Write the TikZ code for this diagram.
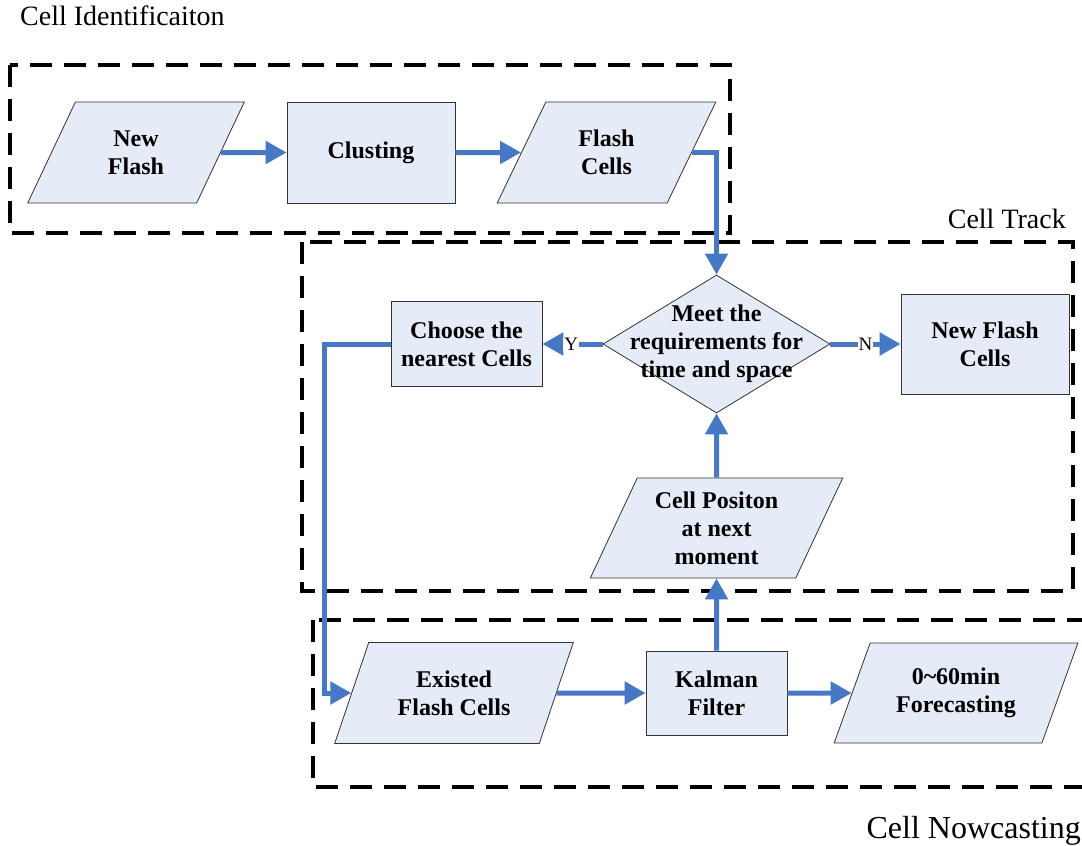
\documentclass[tikz,border=0pt]{standalone}
\usepackage{fontspec}
\setmainfont{Liberation Serif}
\usetikzlibrary{shapes.geometric,arrows.meta}
\definecolor{arr}{RGB}{70,120,198}
\definecolor{boxfill}{RGB}{230,236,247}
\begin{document}
\begin{tikzpicture}[x=1pt,y=-1pt,
  box/.style={draw=black!80, line width=0.8pt, fill=boxfill, font=\fontsize{24}{28}\selectfont\bfseries, align=center, inner sep=0pt},
  rectbox/.style={box, rectangle},
  para/.style={box, trapezium, trapezium left angle=63.4, trapezium right angle=116.6, trapezium stretches=true},
  flow/.style={draw=arr, line width=5pt, -{Triangle[length=21pt,width=22pt]}},
  group/.style={draw=black, line width=3.2pt, dash pattern=on 22pt off 12pt},
  title/.style={font=\fontsize{28}{34}\selectfont, inner sep=0pt},
  yn/.style={font=\fontsize{19}{22}\selectfont, fill=white, inner sep=1pt}
]
\useasboundingbox (0,0) rectangle (1082,846);
\clip (0,0) rectangle (1082,846);

% group frames
\draw[group] (10,65) rectangle (730,233);
\draw[group] (302,242) rectangle (1073,591);
\draw[group] (313,620) rectangle (1095,787);

\node[title, anchor=base west] (t1) at (20,25) {Cell Identificaiton};
\node[title, anchor=base east] (t2) at (1066,228) {Cell Track};
\node[title, anchor=base east, font=\fontsize{32}{36}\selectfont] (t3) at (1081,838) {Cell Nowcasting};

% nodes
\node[para, minimum width=219pt, minimum height=101pt] (nf) at (136,152.5) {New\\Flash};
\node[rectbox, minimum width=168pt, minimum height=101pt] (cl) at (371,152.5) {Clusting};
\node[para, minimum width=219pt, minimum height=101pt] (fc) at (606.5,152.5) {Flash\\Cells};

\node[box, diamond, minimum width=227pt, minimum height=138pt] (dia) at (716.5,344) {};
\node[font=\fontsize{24}{28}\selectfont\bfseries, align=center, inner sep=0pt] (diat) at (dia.center) {Meet the\\requirements for\\time and space};

\node[rectbox, minimum width=151pt, minimum height=85pt] (ch) at (466.5,344) {Choose the\\nearest Cells};
\node[rectbox, minimum width=168pt, minimum height=100pt] (nfc) at (985,344) {New Flash\\Cells};

\node[para, minimum width=253pt, minimum height=100pt] (cp) at (716.5,528) {Cell Positon\\at next\\moment};

\node[para, minimum width=239pt, minimum height=101pt] (ex) at (454,693) {Existed\\Flash Cells};
\node[rectbox, minimum width=141pt, minimum height=84pt] (kf) at (716.5,693) {Kalman\\Filter};
\node[para, minimum width=244pt, minimum height=100pt] (fo) at (956,693) {0\char`\~60min\\Forecasting};

\coordinate (bend) at (324,344);

% connectors
\draw[flow] (nf.east) -- (cl.west);
\draw[flow] (cl.east) -- (fc.west);
\draw[flow] (fc.east) -| (dia.north);
\draw[flow] (dia.west) -- node[yn, pos=0.52] {Y} (ch.east);
\draw[flow] (dia.east) -- node[yn, pos=0.5] {N} (nfc.west);
\draw[flow] (ch.west) -- (bend) |- (ex.west);
\draw[flow] (ex.east) -- (kf.west);
\draw[flow] (kf.east) -- (fo.west);
\draw[flow] (kf.north) -- (cp.south);
\draw[flow] (cp.north) -- (dia.south);
\end{tikzpicture}
\end{document}
